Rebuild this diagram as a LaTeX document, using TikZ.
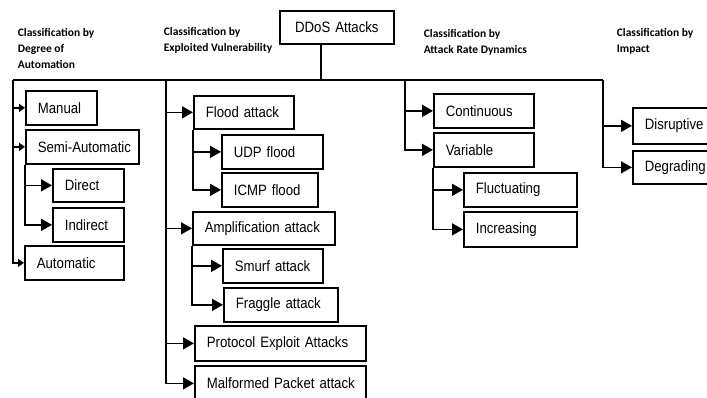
\documentclass[tikz,border=0pt]{standalone}
\usepackage{fontspec}
\usepackage{tikz}
\usetikzlibrary{arrows.meta}
\newfontfamily\boxfont[FakeStretch=0.88]{Liberation Sans}
\newfontfamily\headfont{Carlito}

\begin{document}
\begin{tikzpicture}[x=1pt, y=-1pt, >={Triangle[length=11pt,width=12pt]}, line width=1.7pt,
	box/.style={draw, anchor=north west, inner xsep=0pt, inner ysep=0pt, align=left,
		execute at begin node={\hspace*{12pt}},
		font=\boxfont\fontsize{15}{17}\selectfont},
	rootbox/.style={draw, anchor=north west, inner sep=0pt, align=center,
		font=\boxfont\fontsize{15}{17}\selectfont},
	heading/.style={anchor=north west, inner sep=0pt, align=left,
		font=\headfont\bfseries\fontsize{11.5}{15.7}\selectfont},
	smalltip/.style={-{Triangle[length=6pt,width=8pt]}}]
		% Fix the frame of the picture
		\clip (0,0) rectangle (707,397);

		% Macro for a box at its top left corner.
		% Usage: \classbox{name}{x}{y}{width}{height}{Label}
		\newcommand{\classbox}[6]{
			\node[box, text width=#4pt, minimum height=#5pt] (#1) at (#2,#3) {#6};
		}

		% Root
		\node[rootbox, text width=114pt, minimum height=33pt] (ddos) at (279,10) {DDoS Attacks};

		% Headings
		\node[heading] (headA) at (17,28) {Classification by\\Degree of\\Automation};
		\node[heading] (headB) at (163,27) {Classification by\\Exploited Vulnerability};
		\node[heading] (headC) at (423,29) {Classification by\\Attack Rate Dynamics};
		\node[heading] (headD) at (616,28) {Classification by\\Impact};

		% Degree of automation
		\classbox{manual}{25}{90}{71}{34}{Manual};
		\classbox{semi}{25}{129}{113}{34}{Semi-Automatic};
		\classbox{direct}{52}{168}{71}{33}{Direct};
		\classbox{indirect}{52}{207}{71}{34}{Indirect};
		\classbox{automatic}{24}{245}{99}{34}{Automatic};

		% Exploited vulnerability
		\classbox{flood}{193}{95}{100}{33}{Flood attack};
		\classbox{udp}{221}{134}{101}{34}{UDP flood};
		\classbox{icmp}{221}{172}{96}{34}{ICMP flood};
		\classbox{amp}{192}{211}{142}{33}{Amplification attack};
		\classbox{smurf}{222}{248}{100}{34}{Smurf attack};
		\classbox{fraggle}{223}{287}{114}{34}{Fraggle attack};
		\classbox{protocol}{194}{325}{171}{35}{Protocol Exploit Attacks};
		\classbox{malformed}{194}{365}{171}{35}{Malformed Packet attack};

		% Attack rate dynamics
		\classbox{continuous}{433}{93}{100}{34}{Continuous};
		\classbox{variable}{433}{132}{100}{34}{Variable};
		\classbox{fluct}{463}{172}{113}{34}{Fluctuating};
		\classbox{increasing}{463}{211}{113}{35}{Increasing};

		% Impact
		\classbox{disruptive}{632}{107}{100}{36}{Disruptive};
		\classbox{degrading}{632}{150}{100}{33}{Degrading};

		% Draw the bus under the root
		\coordinate (busA) at (13,80);
		\coordinate (busB) at (166,80);
		\coordinate (busC) at (405,80);
		\coordinate (busD) at (603,80);
		\draw (ddos.south -| 321,0) -- (321,80);
		\draw (busA) -- (busD);

		% Branches
		\draw[smalltip] (busA) |- (manual.west);
		\draw[smalltip] (busA) |- (semi.west);
		\draw[smalltip] (busA) |- (automatic.west);
		\draw[->] (semi.south west) |- (direct.west);
		\draw[->] (semi.south west) |- (indirect.west);

		\draw[->] (busB) |- (flood.west);
		\draw[->] (busB) |- (amp.west);
		\draw[->] (busB) |- (protocol.west);
		\draw[->] (busB) |- (malformed.west);
		\draw[->] (flood.south west) |- (udp.west);
		\draw[->] (flood.south west) |- (icmp.west);
		\draw[->] (amp.south west) |- (smurf.west);
		\draw[->] (amp.south west) |- (fraggle.west);

		\draw[->] (busC) |- (continuous.west);
		\draw[->] (busC) |- (variable.west);
		\draw[->] (variable.south west) |- (fluct.west);
		\draw[->] (variable.south west) |- (increasing.west);

		\draw[->] (busD) |- (disruptive.west);
		\draw[->] (busD) |- (degrading.west);
	\end{tikzpicture}
\end{document}
